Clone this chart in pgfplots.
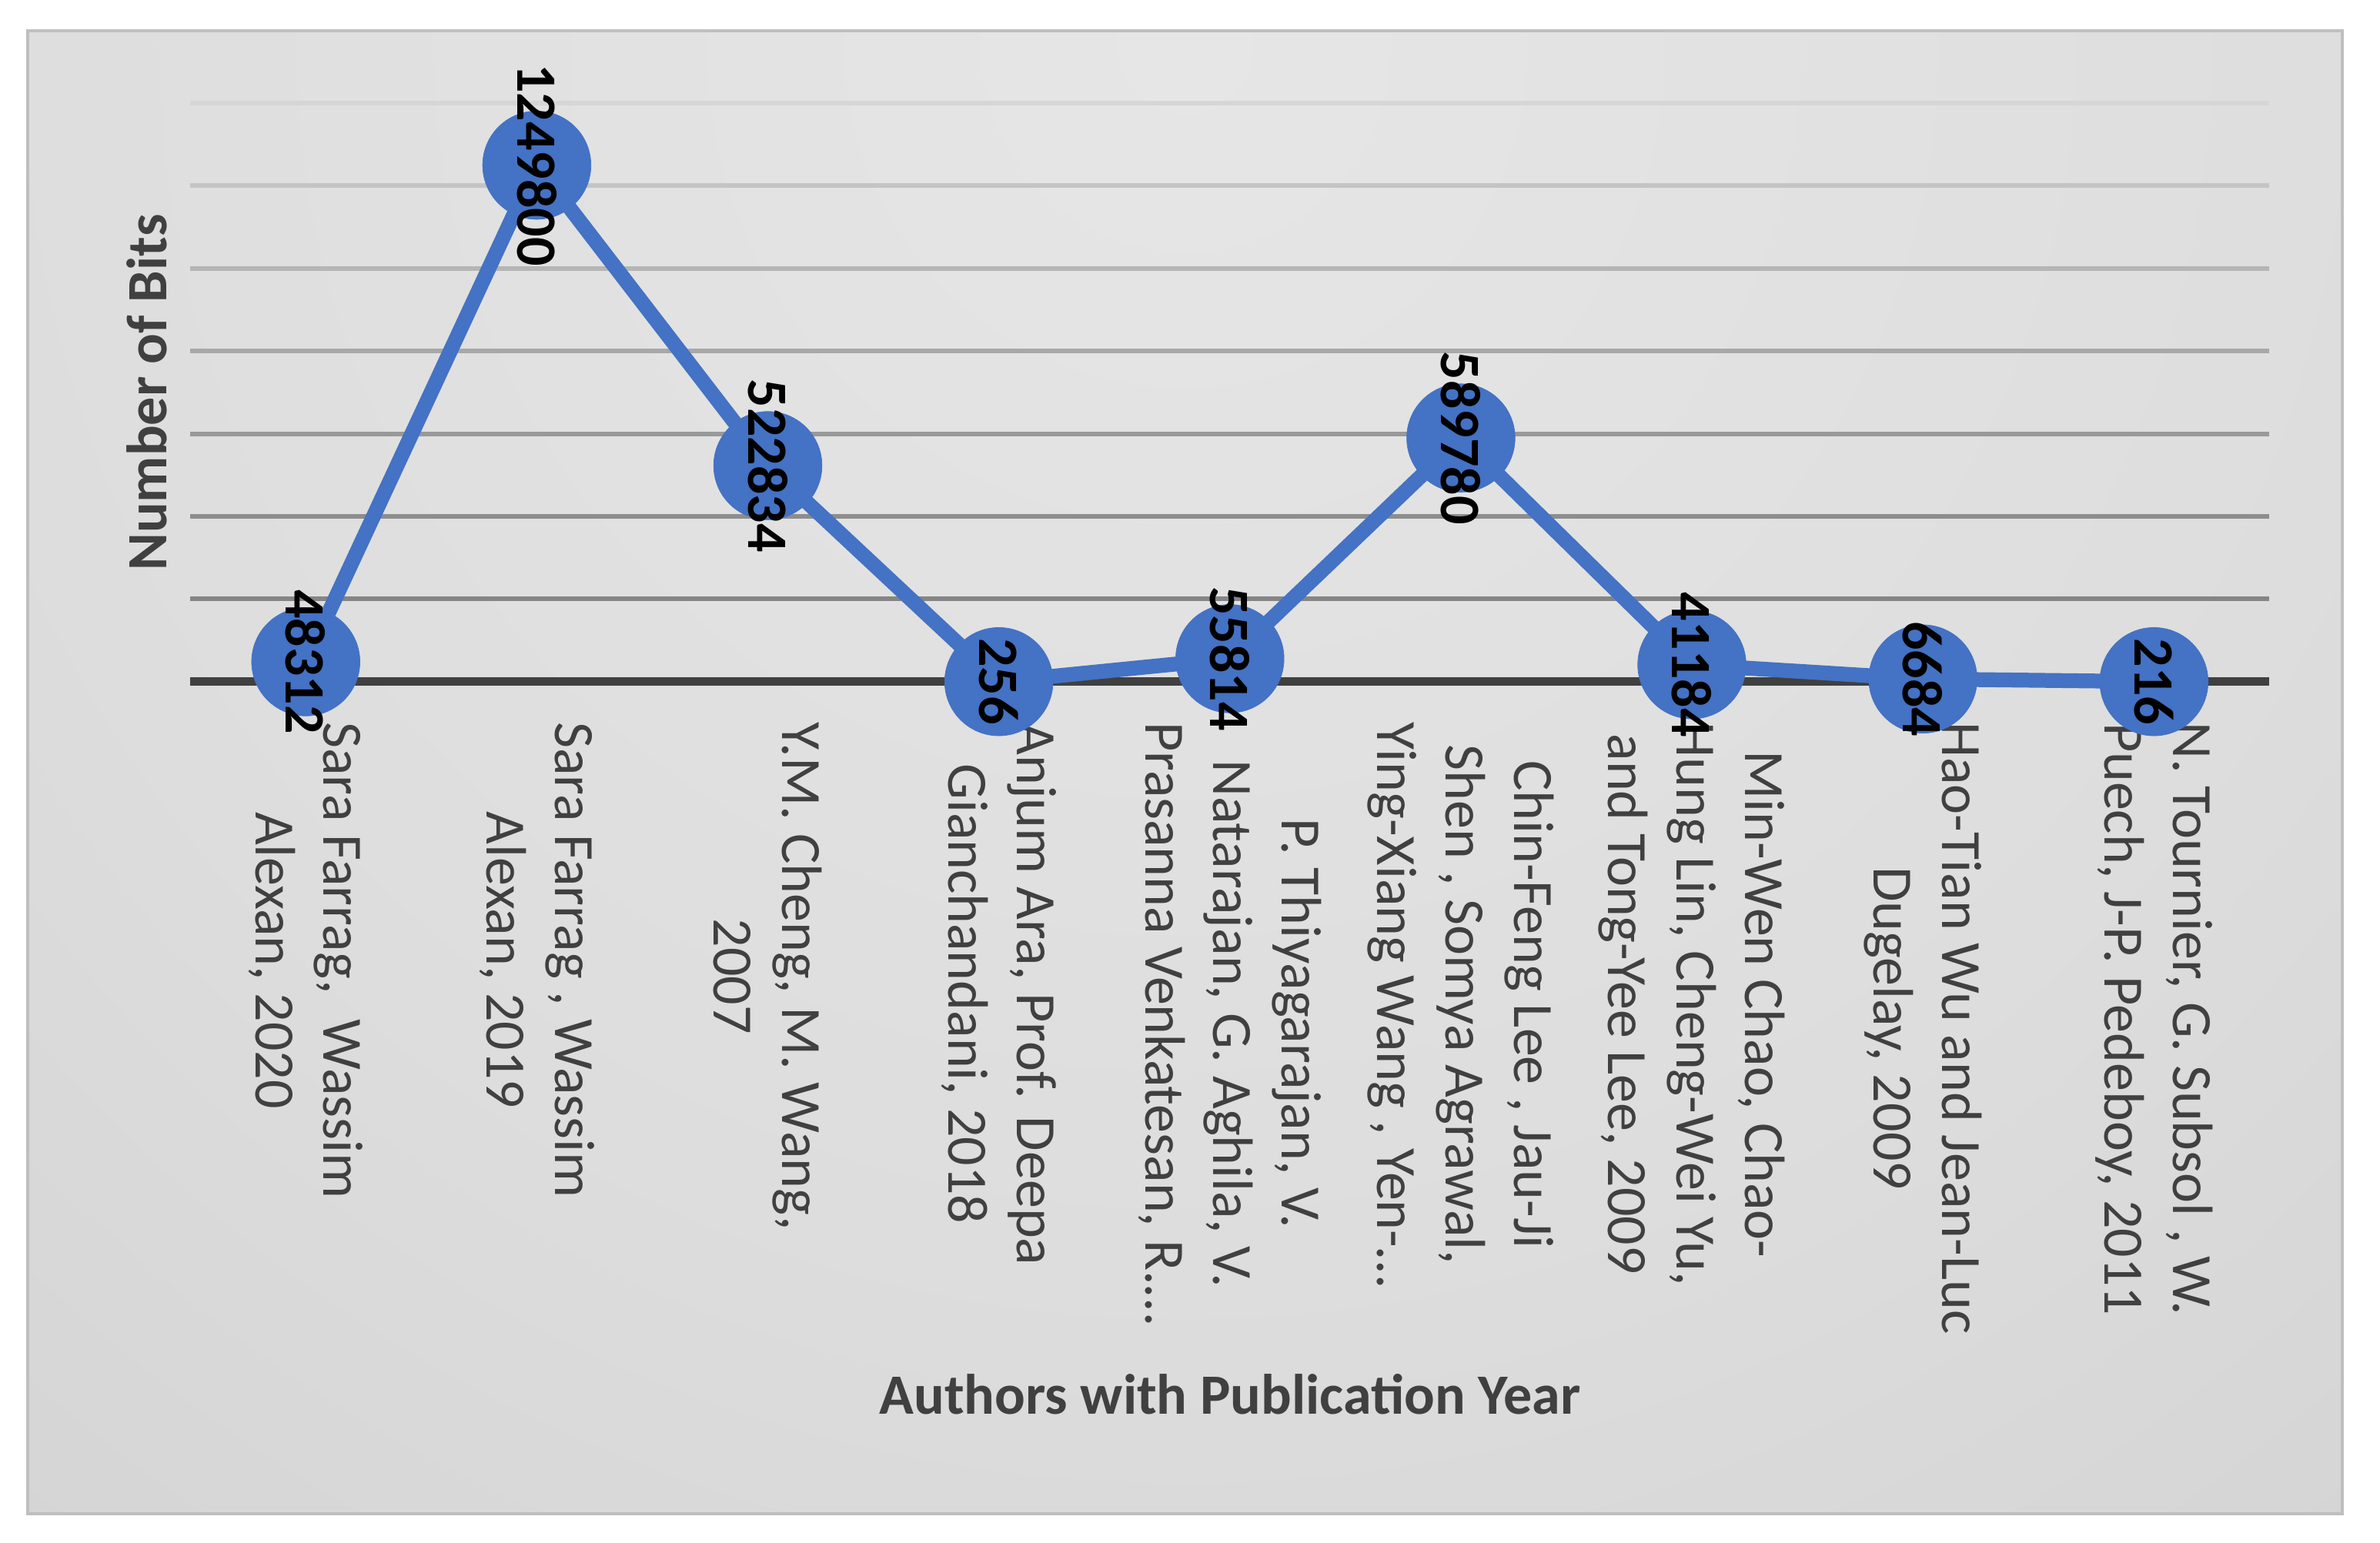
\documentclass[border=0pt]{standalone}
\usepackage{pgfplots}
\pgfplotsset{compat=1.18}
\usepackage{fontspec}
\setmainfont{Carlito}

\definecolor{xblue}{HTML}{4472C4}
\definecolor{txt}{HTML}{404040}
\definecolor{bg0}{HTML}{E6E6E6}
\definecolor{bg1}{HTML}{DDDDDD}
\definecolor{bg2}{HTML}{CECECE}
\definecolor{bg3}{HTML}{C3C3C3}
\definecolor{frame}{HTML}{BFBFBF}

\pgfdeclareradialshading{bgshade}{\pgfpointorigin}{%
  color(0bp)=(bg0); color(16bp)=(bg1); color(32bp)=(bg2);
  color(48bp)=(bg3); color(50bp)=(bg3)}

\begin{document}
\begin{tikzpicture}
\fontsize{10}{12}\selectfont
\path[use as bounding box, fill=white] (0pt,0pt) rectangle (417.8pt,270.8pt);
% chart area background
\begin{scope}
  \clip (4.9pt,5.0pt) rectangle (411.2pt,265.4pt);
  \shade[shading=bgshade] (208.1pt,262.7pt) circle (337.8pt);
\end{scope}
\draw[frame, line width=0.6pt] (4.9pt,5.0pt) rectangle (411.2pt,265.4pt);

\begin{axis}[
    at={(33.4pt,151.1pt)}, anchor=south west,
    scale only axis,
    width=365pt, height=101.6pt,
    xmin=-0.5, xmax=8.5,
    ymin=0, ymax=1400000,
    clip=false,
    axis line style={draw=none},
    tick style={draw=none},
    ytick=\empty,
    xtick={0,1,2,3,4,5,6,7,8},
    xticklabels={
      {Sara Farrag,\ \ Wassim\\Alexan, 2020},
      {Sara Farrag , Wassim\\Alexan, 2019},
      {Y.M. Cheng, M. Wang,\\2007},
      {Anjum Ara, Prof. Deepa\\Gianchandani, 2018},
      {P. Thiyagarajan, V.\\Natarajan, G. Aghila, V.\\Prasanna Venkatesan, R.…},
      {Chin-Feng Lee , Jau-Ji\\Shen , Somya Agrawal,\\Ying-Xiang Wang , Yen-…},
      {Min-Wen Chao, Chao-\\Hung Lin, Cheng-Wei Yu,\\and Tong-Yee Lee, 2009},
      {Hao-Tian Wu and Jean-Luc\\Dugelay, 2009},
      {N. Tournier, G. Subsol , W.\\Puech, J-P. Pedeboy, 2011}},
    xticklabel shift=6.9pt,
    xticklabel style={rotate=-90, anchor=west, align=center, inner sep=0pt,
      text=txt, font=\fontsize{10}{12}\selectfont},
    xlabel={Authors with Publication Year},
    ylabel={Number of Bits},
    xlabel style={at={(axis description cs:0.5,-1.232)}, anchor=center,
      text=txt, font=\bfseries\fontsize{10}{12}\selectfont},
    ylabel style={at={(axis description cs:-0.0208,0.5)}, anchor=center,
      rotate=0, text=txt, font=\bfseries\fontsize{10}{12}\selectfont},
    point meta=explicit symbolic,
    nodes near coords,
    every node near coord/.append style={rotate=-90, anchor=center,
      text=black, font=\bfseries\fontsize{10}{12}\selectfont},
]
% gridlines (lighter at top, darker near the axis)
\draw[line width=0.8pt, color={rgb,255:red,133;green,133;blue,133}] (axis cs:-0.5,200000) -- (axis cs:8.5,200000);
\draw[line width=0.8pt, color={rgb,255:red,141;green,141;blue,141}] (axis cs:-0.5,400000) -- (axis cs:8.5,400000);
\draw[line width=0.8pt, color={rgb,255:red,153;green,153;blue,153}] (axis cs:-0.5,600000) -- (axis cs:8.5,600000);
\draw[line width=0.8pt, color={rgb,255:red,168;green,168;blue,168}] (axis cs:-0.5,800000) -- (axis cs:8.5,800000);
\draw[line width=0.8pt, color={rgb,255:red,181;green,181;blue,181}] (axis cs:-0.5,1000000) -- (axis cs:8.5,1000000);
\draw[line width=0.8pt, color={rgb,255:red,196;green,196;blue,196}] (axis cs:-0.5,1200000) -- (axis cs:8.5,1200000);
\draw[line width=0.8pt, color={rgb,255:red,214;green,214;blue,214}] (axis cs:-0.5,1400000) -- (axis cs:8.5,1400000);
\draw[line width=1.5pt, color=txt] (axis cs:-0.5,0) -- (axis cs:8.5,0);

\addplot[color=xblue, line width=2.6pt, mark=*, mark size=9.5pt,
    mark options={fill=xblue, draw=xblue, line width=0.1pt}]
  coordinates {
    (0,48312) [48312]
    (1,1249800) [1249800]
    (2,522834) [522834]
    (3,256) [256]
    (4,55814) [55814]
    (5,589780) [589780]
    (6,41184) [41184]
    (7,6684) [6684]
    (8,216) [216]
  };
\end{axis}
\end{tikzpicture}
\end{document}
